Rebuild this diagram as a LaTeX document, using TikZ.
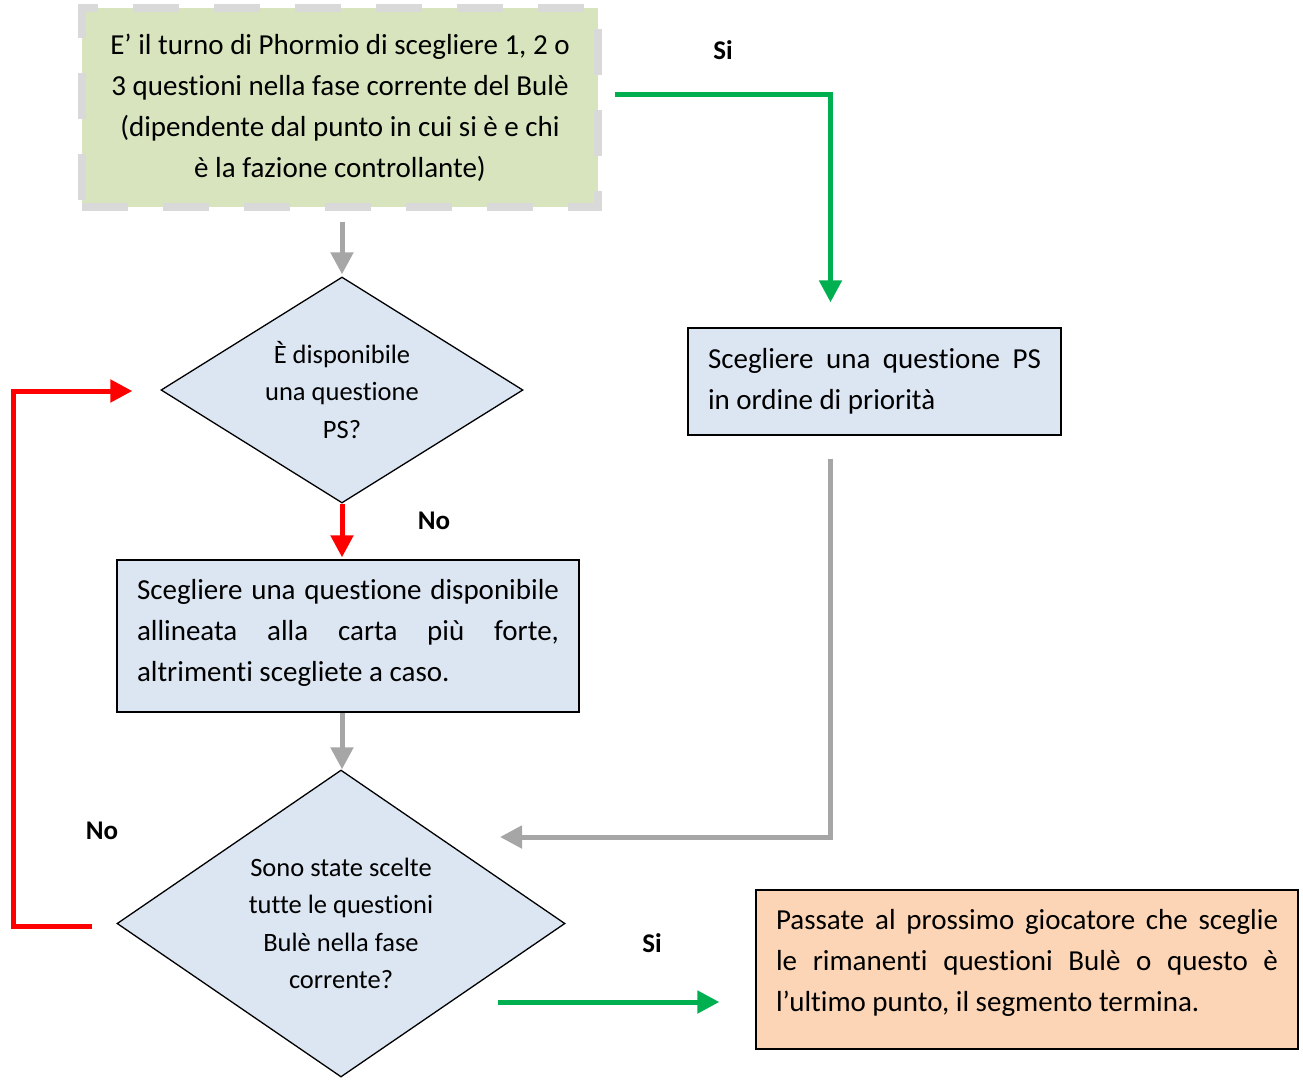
\documentclass[tikz,border=0pt]{standalone}
\usepackage{fontspec}
\setmainfont{Carlito}[Ligatures={NoCommon}]
\usetikzlibrary{shapes.geometric,arrows.meta,positioning,calc}

\definecolor{startgreen}{HTML}{D7E4BD}
\definecolor{stepblue}{HTML}{DCE6F2}
\definecolor{endorange}{HTML}{FBD5B5}
\definecolor{dashgray}{HTML}{D9D9D9}
\definecolor{flowgray}{HTML}{A6A6A6}
\definecolor{flowgreen}{HTML}{00B050}
\definecolor{flowred}{HTML}{FF0000}

% empty space under the last line, so the text sits a bit higher in its box
\newcommand{\liftby}[1]{\par\vspace{#1}\hrule height0pt depth0pt}

\tikzset{
  boxfont/.style={font=\fontsize{29}{41}\selectfont},
  startbox/.style={boxfont, fill=startgreen, draw=dashgray, line width=8pt,
    dash pattern=on 46pt off 35pt, align=center,
    minimum width=516pt, minimum height=199pt, inner sep=0pt},
  stepbox/.style={boxfont, fill=stepblue, draw=black, line width=1.3pt,
    align=justify, inner xsep=20pt, inner ysep=0pt},
  endbox/.style={stepbox, fill=endorange},
  decision/.style={diamond, shape aspect=1.5, fill=stepblue, draw=black,
    line width=1.3pt, align=center, inner sep=0pt,
    font=\fontsize{26.5}{37.5}\selectfont},
  answer/.style={font=\fontsize{27}{30}\selectfont\bfseries},
  flow/.style={line width=5pt, -{Triangle[length=22pt,width=22pt]}},
  grayflow/.style={flow, draw=flowgray},
  greenflow/.style={flow, draw=flowgreen},
  redflow/.style={flow, draw=flowred},
}

\begin{document}
\begin{tikzpicture}[x=1pt, y=-1pt]
\useasboundingbox (0,0) rectangle (1303,1080);

% boxes and decisions
\node[startbox] (turn) at (340,107.5)
  {E’ il turno di Phormio di scegliere 1, 2 o\\3 questioni nella fase corrente del Bulè\\(dipendente dal punto in cui si è e chi\\è la fazione controllante)};
\node[decision, minimum width=362pt, minimum height=226pt] (haveps) at (342,390)
  {È disponibile\\una questione\\PS?};
\node[stepbox, text width=422pt, minimum width=462pt, minimum height=152pt] (pickany) at (348,636)
  {Scegliere una questione disponibile\linebreak allineata alla carta più forte,\linebreak altrimenti scegliete a caso.\liftby{6pt}};
\node[decision, minimum width=448pt, minimum height=307pt] (alldone) at (341,923.5)
  {Sono state scelte\\tutte le questioni\\Bulè nella fase\\corrente?};
\node[stepbox, text width=333pt, minimum width=373pt, minimum height=107pt] (pickps) at (874.5,381.5)
  {Scegliere una questione PS\linebreak in ordine di priorità};
\node[endbox, text width=502pt, minimum width=542pt, minimum height=159pt] (nextplayer) at (1027,969.5)
  {Passate al prossimo giocatore che sceglie\linebreak le rimanenti questioni Bulè o questo è\linebreak l’ultimo punto, il segmento termina.\liftby{14pt}};

% loose ends of the connectors
\coordinate (merge) at (500,837);
\coordinate (leave) at (498,1002);

% connectors
\draw[grayflow] ($ (turn.south) + (2,11) $) -- ($ (haveps.north) + (0,-2) $);
\draw[redflow] (haveps.south) -- ($ (pickany.north) + (-6,-2) $);
\draw[grayflow] ($ (pickany.south) + (-6,0) $) -- ($ (alldone.north) + (1,0) $);
\draw[redflow] ($ (alldone.west) + (-24,2.5) $) -- ++(-79,0) |- ($ (haveps.west) + (-28,1) $);
\draw[greenflow] ($ (turn.east) + (13,-13.5) $) -| ($ (pickps.north) + (-44,-25) $);
\draw[grayflow] ($ (pickps.south) + (-44,23) $) |- (merge);
\draw[greenflow] (leave) -- ($ (nextplayer.west) + (-36,32.5) $);

% answers
\node[answer] (yesps) at (723,50) {Si};
\node[answer] (nops) at (434,521) {No};
\node[answer] (notall) at (102,831) {No};
\node[answer] (yesall) at (652,943) {Si};

\end{tikzpicture}
\end{document}
